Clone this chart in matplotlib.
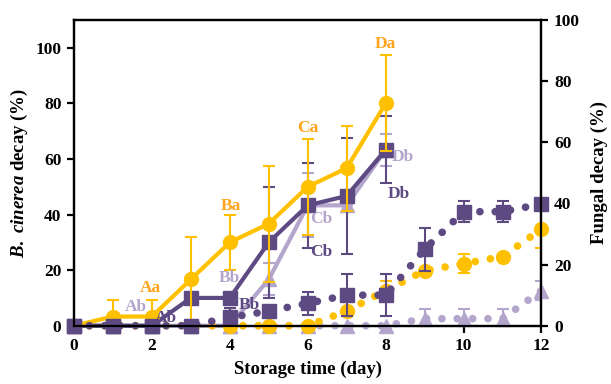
import matplotlib.pyplot as plt
import numpy as np

plt.rcParams['font.family'] = ['Liberation Serif', 'DejaVu Serif']
plt.rcParams['font.weight'] = 'bold'
plt.rcParams['font.size'] = 12.5
plt.rcParams['mathtext.fontset'] = 'custom'
plt.rcParams['mathtext.it'] = 'Liberation Serif:italic:bold'
plt.rcParams['mathtext.rm'] = 'Liberation Serif:bold'

# colours
gold = '#FFC000'
gold_txt = '#FFA41C'
dark = '#5E4A82'
light = '#B3A5CC'

days = np.arange(0, 13)
days_b = np.arange(0, 9)

# B. cinerea decay (%) - left axis, solid
bc_ctrl = [0, 3.3, 3.3, 16.7, 30, 36.7, 50, 56.7, 80]
bc_ctrl_err = [0, 5.8, 5.8, 15.3, 10, 20.8, 17.3, 15.3, 17.3]
bc_t1 = [0, 0, 0, 10, 10, 30, 43.3, 46.7, 63.3]
bc_t1_err = [0, 0, 0, 0, 0, 20, 15.3, 20.8, 12]
bc_t2 = [0, 0, 0, 0, 0, 16.7, 43.3, 43.3, 63.3]
bc_t2_err = [0, 0, 0, 0, 0, 5.8, 11.5, 0, 5.8]

# fungal decay (%) - right axis, dotted
fd_ctrl = [0, 0, 0, 0, 0, 0, 0, 4.8, 11.5, 18, 20.3, 22.6, 31.6]
fd_ctrl_err = [0, 0, 0, 0, 0, 0, 0, 0, 3, 0, 3.2, 0, 6.2]
fd_t1 = [0, 0, 0, 0, 2.7, 4.8, 7.3, 10, 10, 25, 37.3, 37.3, 39.8]
fd_t1_err = [0, 0, 0, 0, 3.2, 0, 3.8, 6.8, 6.8, 7, 3.5, 3.5, 0]
fd_t2 = [0, 0, 0, 0, 0, 0, 0, 0, 0, 2.3, 2.3, 2.3, 11.5]
fd_t2_err = [0, 0, 0, 0, 0, 0, 0, 0, 0, 3.2, 3.2, 3.2, 3.2]

# letters: (text, x, y, colour)
letters = [
    ('Ab', 1.6, 6.9, light), ('Aa', 1.97, 13.5, gold_txt), ('Ab', 2.35, 2.7, dark),
    ('Ba', 4.03, 43.2, gold_txt), ('Bb', 4.0, 17.1, light), ('Bb', 4.5, 7.5, dark),
    ('Ca', 5.99, 71.3, gold_txt), ('Cb', 6.35, 38.4, light), ('Cb', 6.35, 26.4, dark),
    ('Da', 8.0, 101.3, gold_txt), ('Db', 8.45, 60.8, light), ('Db', 8.35, 47.5, dark),
]

fig = plt.figure(figsize=(6.11, 3.84), dpi=100)
ax = fig.add_axes([0.1211, 0.1518, 0.7651, 0.7961])
ax2 = ax.twinx()

eb = dict(capsize=4, elinewidth=1.5, capthick=1.5)
dot = (0, (0.01, 2.0))

for y, e, c, m in [(fd_t2, fd_t2_err, light, '^'), (fd_ctrl, fd_ctrl_err, gold, 'o'),
                   (fd_t1, fd_t1_err, dark, 's')]:
    ax2.errorbar(days, y, yerr=e, fmt='none', ecolor=c, **eb)
    ax2.plot(days, y, color=c, lw=5.5, linestyle=dot, dash_capstyle='round',
             marker=m, ms=10, clip_on=False)

for y, e, c, m in [(bc_t2, bc_t2_err, light, '^'), (bc_t1, bc_t1_err, dark, 's'),
                   (bc_ctrl, bc_ctrl_err, gold, 'o')]:
    ax.errorbar(days_b, y, yerr=e, fmt='none', ecolor=c, **eb)
    ax.plot(days_b, y, color=c, lw=3, marker=m, ms=10, clip_on=False)

for t, x, y, c in letters:
    ax.text(x, y, t, color=c, ha='center', va='center', fontweight='bold', fontsize=12.5)

ax.set_xlim(0, 12)
ax.set_ylim(0, 110)
ax2.set_ylim(0, 100)
ax.set_xticks(range(0, 13, 2))
ax.set_yticks(range(0, 101, 20))
ax2.set_yticks(range(0, 101, 20))

for a in (ax, ax2):
    for s in a.spines.values():
        s.set_linewidth(1.6)
    a.tick_params(direction='out', length=5, width=1.6, labelsize=12.5, pad=4)

ax.set_xlabel('Storage time (day)', fontsize=13.5, fontweight='bold', labelpad=5)
ax.set_ylabel(r'$\mathit{B.\ cinerea}$ decay (%)', fontsize=13.5, fontweight='bold')
ax2.set_ylabel('Fungal decay (%)', fontsize=13.5, fontweight='bold', labelpad=8)

fig.savefig('out.png', dpi=100)
